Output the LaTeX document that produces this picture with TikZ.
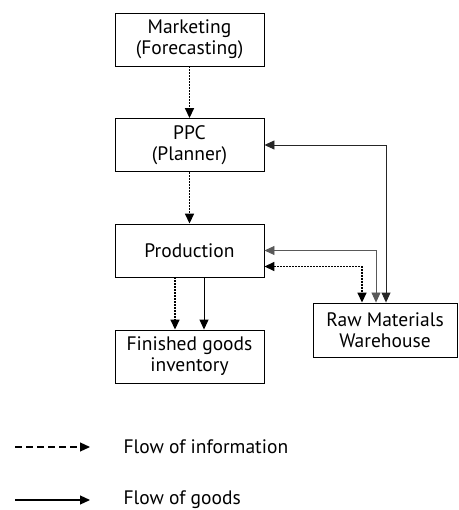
\documentclass[tikz,border=0pt]{standalone}
\usepackage{fontspec}
\setmainfont{PT Sans}
\usepackage{tikz}
\usetikzlibrary{arrows.meta,positioning,calc}

\tikzset{
  unit/.style={draw, line width=0.9pt, minimum width=149pt, minimum height=53pt, align=center, inner sep=2pt, font=\fontsize{19.5}{21}\selectfont},
  info/.style={-{Triangle[length=10pt,width=9pt]}, line width=1.6pt, dash pattern=on 2pt off 1pt},
  goods/.style={-{Triangle[length=10pt,width=9pt]}, line width=1pt},
  both/.style={{Triangle[length=10pt,width=9pt]}-{Triangle[length=10pt,width=9pt]}},
  legendtext/.style={anchor=west, font=\fontsize{19.5}{21}\selectfont}
}

\begin{document}
\begin{tikzpicture}[x=1pt,y=-1pt]
  \useasboundingbox (0,0) rectangle (458,510);
  % boxes
  \node[unit] (mkt) at (189.5,39.5) {Marketing\\(Forecasting)};
  \node[unit] (ppc) at (189.5,145) {PPC\\(Planner)};
  \node[unit] (prod) at (189.5,250.5) {Production};
  \node[unit] (fin) at (189.5,356.5) {Finished goods\\inventory};
  \node[unit, minimum width=144pt, minimum height=54pt] (raw) at (385,330) {Raw Materials\\Warehouse};

  % information
  \draw[info] (mkt.south) -- (ppc.north);
  \draw[info] (ppc.south) -- (prod.north);
  \draw[info] ([xshift=-14.5pt]prod.south) -- ([xshift=-14.5pt]fin.north);
  \draw[info, both] ([yshift=-16pt]prod.east) -| ([xshift=-23pt]raw.north);

  % goods
  \draw[goods] ([xshift=14.5pt]prod.south) -- ([xshift=14.5pt]fin.north);
  \draw[goods, line width=0.8pt, black!65, both] (prod.east) -| ([xshift=-9pt]raw.north);
  \draw[goods, line width=0.9pt, black!85, both] (ppc.east) -| ([xshift=1pt]raw.north);

  % legend
  \coordinate (ia) at (15,447);
  \coordinate (ib) at (90,447);
  \coordinate (ga) at (15,500);
  \coordinate (gb) at (90,500);
  \draw[goods, line width=1.2pt, dash pattern=on 7pt off 4pt] (ia) -- (ib);
  \draw[goods, line width=1.2pt] (ga) -- (gb);
  \node[legendtext] (il) at (120,447) {Flow of information};
  \node[legendtext] (gl) at (120,500) {Flow of goods};
\end{tikzpicture}
\end{document}
